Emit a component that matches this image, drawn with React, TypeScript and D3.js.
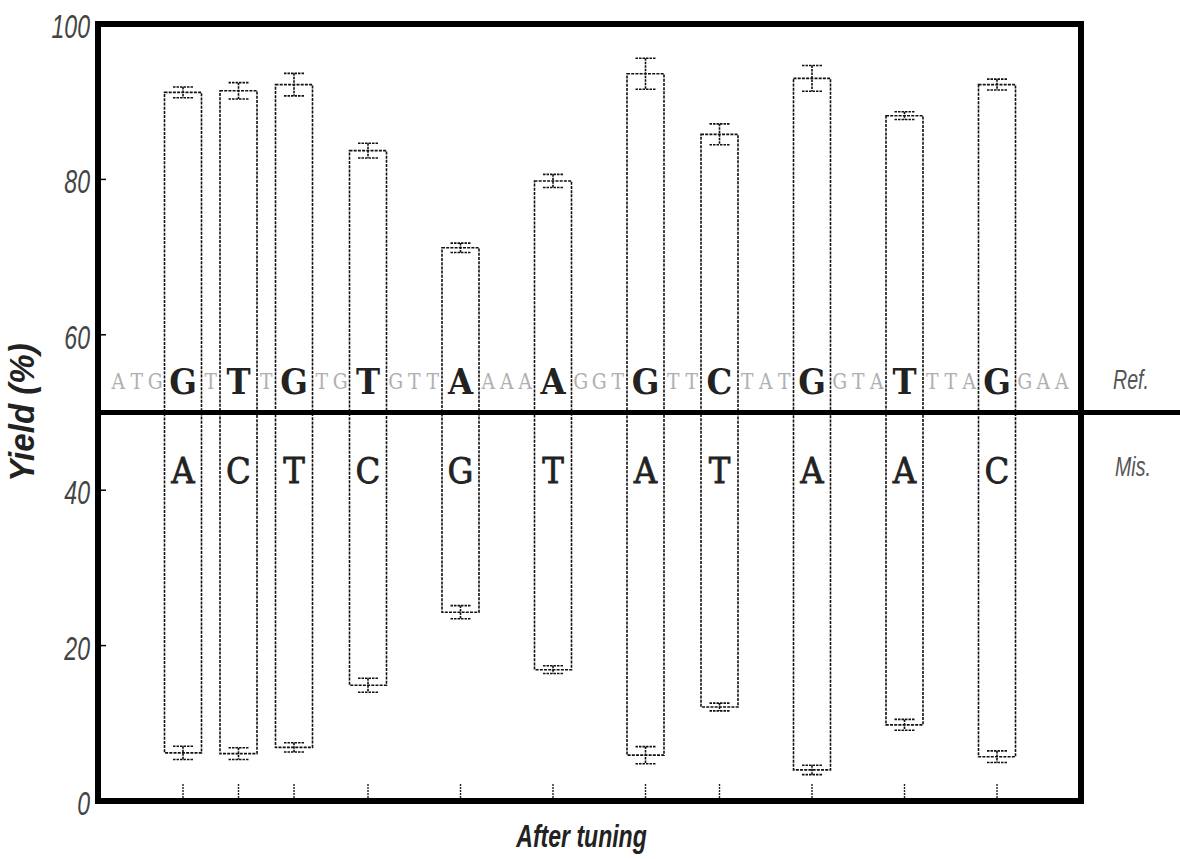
import React from "react";
import * as d3 from "d3";

// Sequence segments: "gap" = reference bases between bars, "bar" = tested position
const segments: { kind: "gap" | "bar"; text: string }[] = [
  { kind: "gap", text: "ATG" },
  { kind: "bar", text: "G" },
  { kind: "gap", text: "T" },
  { kind: "bar", text: "T" },
  { kind: "gap", text: "T" },
  { kind: "bar", text: "G" },
  { kind: "gap", text: "TG" },
  { kind: "bar", text: "T" },
  { kind: "gap", text: "GTT" },
  { kind: "bar", text: "A" },
  { kind: "gap", text: "AAA" },
  { kind: "bar", text: "A" },
  { kind: "gap", text: "GGT" },
  { kind: "bar", text: "G" },
  { kind: "gap", text: "TT" },
  { kind: "bar", text: "C" },
  { kind: "gap", text: "TAT" },
  { kind: "bar", text: "G" },
  { kind: "gap", text: "GTA" },
  { kind: "bar", text: "T" },
  { kind: "gap", text: "TTA" },
  { kind: "bar", text: "G" },
  { kind: "gap", text: "GAA" },
];

const refBases = ["G", "T", "G", "T", "A", "A", "G", "C", "G", "T", "G"];
const misBases = ["A", "C", "T", "C", "G", "T", "A", "T", "A", "A", "C"];
const topValues = [91.2, 91.4, 92.2, 83.7, 71.2, 79.8, 93.6, 85.8, 93.0, 88.2, 92.2];
const topErrors = [0.7, 1.05, 1.45, 0.95, 0.6, 0.85, 2.0, 1.35, 1.65, 0.5, 0.7];
const bottomValues = [6.2, 6.1, 6.9, 14.9, 24.3, 16.9, 5.9, 12.1, 4.0, 9.8, 5.7];
const bottomErrors = [0.85, 0.75, 0.6, 0.9, 0.85, 0.5, 1.1, 0.5, 0.6, 0.7, 0.75];
const yTicks = [0, 20, 40, 60, 80, 100];
const dividerValue = 50;

export default function App() {
  const W = 1180;
  const H = 859;
  const left = 98, right = 1081, top = 24, bottom = 801;

  const y = d3.scaleLinear().domain([0, 100]).range([bottom, top]);

  // layout units: each gap base = 1 unit, each bar = 2 units
  const units: { kind: string; text: string; start: number; width: number }[] = [];
  let acc = 0;
  segments.forEach((s) => {
    const w = s.kind === "bar" ? 2 : s.text.length;
    units.push({ ...s, start: acc, width: w });
    acc += w;
  });
  const x = d3.scaleLinear().domain([0, acc]).range([109, 109 + acc * 18.5]);

  const bars = units.filter((u) => u.kind === "bar");
  const gaps = units.filter((u) => u.kind === "gap");

  const dash = "3 1.2";
  const capW = 10;
  const narrow = "'Liberation Sans', 'DejaVu Sans', sans-serif";
  const baseFont = "'DejaVu Serif', 'Liberation Serif', serif";

  return (
    <svg
      width={W}
      height={H}
      style={{ position: "absolute", left: 0, top: 0, background: "#fff" }}
    >
      {/* gray reference bases in gaps */}
      {gaps.map((g, gi) =>
        g.text.split("").map((ch, ci) => (
          <text
            key={`g${gi}-${ci}`}
            transform={`translate(${x(g.start + ci + 0.5)}, ${y(dividerValue) - 24}) scale(0.85,1)`}
            textAnchor="middle"
            fontFamily={baseFont}
            fontSize={22}
            fill="#b0b0b0"
          >
            {ch}
          </text>
        ))
      )}

      {/* bars */}
      {bars.map((b, i) => {
        const x0 = x(b.start);
        const x1 = x(b.start + b.width);
        const cx = (x0 + x1) / 2;
        return (
          <g key={`b${i}`}>
            <rect
              x={x0}
              y={y(topValues[i])}
              width={x1 - x0}
              height={y(bottomValues[i]) - y(topValues[i])}
              fill="none"
              stroke="#111"
              strokeWidth={1.6}
              strokeDasharray={dash}
            />
            <g stroke="#111" strokeWidth={1.6} strokeDasharray="2.5 1">
              <line x1={cx} x2={cx} y1={y(topValues[i] + topErrors[i])} y2={y(topValues[i] - topErrors[i])} />
              <line x1={cx - capW} x2={cx + capW} y1={y(topValues[i] + topErrors[i])} y2={y(topValues[i] + topErrors[i])} />
              <line x1={cx - capW} x2={cx + capW} y1={y(topValues[i] - topErrors[i])} y2={y(topValues[i] - topErrors[i])} />
              <line x1={cx} x2={cx} y1={y(bottomValues[i] + bottomErrors[i])} y2={y(bottomValues[i] - bottomErrors[i])} />
              <line x1={cx - capW} x2={cx + capW} y1={y(bottomValues[i] + bottomErrors[i])} y2={y(bottomValues[i] + bottomErrors[i])} />
              <line x1={cx - capW} x2={cx + capW} y1={y(bottomValues[i] - bottomErrors[i])} y2={y(bottomValues[i] - bottomErrors[i])} />
            </g>
            <text
              transform={`translate(${cx}, ${y(dividerValue) - 19}) scale(0.9,1)`}
              textAnchor="middle"
              fontFamily={baseFont}
              fontWeight="bold"
              fontSize={36}
              fill="#222"
            >
              {refBases[i]}
            </text>
            <text
              transform={`translate(${cx}, ${y(dividerValue) + 70}) scale(0.9,1)`}
              textAnchor="middle"
              fontFamily={baseFont}
              fontSize={36}
              fill="#222"
              stroke="#222"
              strokeWidth={0.8}
            >
              {misBases[i]}
            </text>
            <line x1={cx} x2={cx} y1={bottom} y2={bottom - 17} stroke="#222" strokeWidth={1.4} strokeDasharray="2 1" />
          </g>
        );
      })}

      {/* divider at 50 */}
      <line x1={left} x2={W} y1={y(dividerValue)} y2={y(dividerValue)} stroke="#000" strokeWidth={5} />

      {/* frame */}
      <rect x={left} y={top} width={right - left} height={bottom - top} fill="none" stroke="#000" strokeWidth={6} />

      {/* y ticks */}
      {yTicks.map((t) => (
        <g key={`yt${t}`}>
          {t > 0 && t < 100 && (
            <line x1={left} x2={left + 8} y1={y(t)} y2={y(t)} stroke="#000" strokeWidth={1.5} />
          )}
          <text
            transform={`translate(${left - 8}, ${y(t) + 14}) scale(0.68,1)`}
            textAnchor="end"
            fontFamily={narrow}
            fontStyle="italic"
            fontSize={34}
            fill="#444"
          >
            {t}
          </text>
        </g>
      ))}

      {/* right labels */}
      <text transform="translate(1113, 389) scale(0.7,1)" fontFamily={narrow} fontStyle="italic" fontSize={28} fill="#555">
        Ref.
      </text>
      <text transform="translate(1115, 476) scale(0.7,1)" fontFamily={narrow} fontStyle="italic" fontSize={28} fill="#555">
        Mis.
      </text>

      {/* axis titles */}
      <text
        transform={`translate(34, ${(top + bottom) / 2}) rotate(-90) scale(0.92,1)`}
        textAnchor="middle"
        fontFamily={narrow}
        fontStyle="italic"
        fontWeight="bold"
        fontSize={36}
        fill="#222"
      >
        Yield (%)
      </text>
      <text
        transform={`translate(${(left + right) / 2 - 8}, 847) scale(0.72,1)`}
        textAnchor="middle"
        fontFamily={narrow}
        fontStyle="italic"
        fontWeight="bold"
        fontSize={32}
        fill="#222"
      >
        After tuning
      </text>
    </svg>
  );
}
